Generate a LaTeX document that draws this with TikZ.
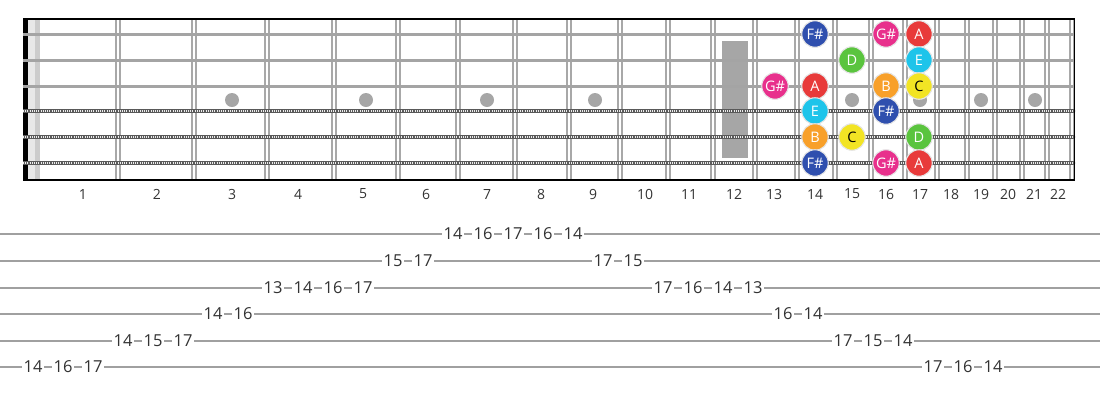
\documentclass[tikz,border=0pt]{standalone}
\usepackage{fontspec}
\setmainfont{Open Sans}
\definecolor{cFs}{HTML}{2F4FAE}
\definecolor{cGs}{HTML}{E8308C}
\definecolor{cA}{HTML}{E83A3A}
\definecolor{cE}{HTML}{1EC4EA}
\definecolor{cD}{HTML}{5AC43E}
\definecolor{cC}{HTML}{F2E424}
\definecolor{cB}{HTML}{F8A02A}
\definecolor{wire}{HTML}{A8A8A8}
\definecolor{strg}{HTML}{A4A4A4}
\definecolor{inlay}{HTML}{A6A6A6}
\definecolor{tabline}{HTML}{A0A0A0}
\definecolor{txt}{HTML}{333333}
\tikzset{
  note/.style={circle, minimum size=26.5pt, inner sep=0pt, draw=white!80!gray, line width=1.1pt,
    text=white, font=\fontsize{14.5}{15}\selectfont},
  fretlabel/.style={text=txt, font=\fontsize{14}{14}\selectfont, inner sep=0pt},
  tabnum/.style={text=txt, fill=white, inner xsep=1.5pt, inner ysep=0pt, font=\fontsize{16.5}{17}\selectfont},
  plainstring/.style={draw=strg, line width=3pt},
  woundbase/.style={draw=gray!70!black, line width=4.6pt},
  woundtex/.style={draw=white!85!gray, line width=2pt, dash pattern=on 1pt off 1.2pt},
  fretwire/.style={draw=wire, line width=1.6pt},
  dotinlay/.style={circle, fill=inlay, minimum size=14pt, inner sep=0pt},
  tabrule/.style={draw=tabline, line width=2pt}
}
\begin{document}
\begin{tikzpicture}[x=1pt,y=-1pt]
\useasboundingbox (0,0) rectangle (1100,400);
% nut area
\fill[black] (23,18) rectangle (28,181);
\fill[gray!18] (28,19) rectangle (35,180);
\fill[gray!40] (35,19) rectangle (40,180);
% fret 12 inlay
\fill[inlay] (722,41) rectangle (748,158);
% dot inlays
\foreach \x/\n in {232/3,366/5,487/7,595/9,852/15,920/17,981/19,1035/21}
  \node[dotinlay] (dot\n) at (\x,100) {};
% fret wires
\foreach \f [count=\i] in {118,194,267,334,398,458,515,569,620,668,713,755,797,835,871,905,937,967,995,1022,1047,1072} {
  \draw[fretwire] (\f-1.8,19) -- (\f-1.8,180);
  \draw[fretwire] (\f+1.8,19) -- (\f+1.8,180);
}
% strings
\foreach \y in {34,60,86}
  \draw[plainstring] (23,\y) -- (1075,\y);
\foreach \y in {111,137,163} {
  \draw[woundbase] (23,\y) -- (1075,\y);
  \draw[woundtex] (23,\y) -- (1075,\y);
}
% borders
\draw[black, line width=2.2pt] (23,19) -- (1075,19);
\draw[black, line width=2.2pt] (23,180) -- (1075,180);
\draw[black, line width=1.4pt] (1074.5,19) -- (1074.5,180);
% fret numbers
\foreach \x [count=\n] in {83,157,232,298,363,426,487,541,593,645,689,734,774,815,852,886,920,951,981,1008,1034,1058}
  \node[fretlabel] (fl\n) at (\x,194) {\n};
% notes
\node[note, fill=cFs] (s1f14) at (815,34) {F\#};
\node[note, fill=cGs] (s1f16) at (886,34) {G\#};
\node[note, fill=cA]  (s1f17) at (919,34) {A};
\node[note, fill=cD]  (s2f15) at (852,60) {D};
\node[note, fill=cE]  (s2f17) at (919,60) {E};
\node[note, fill=cGs] (s3f13) at (775,86) {G\#};
\node[note, fill=cA]  (s3f14) at (815,86) {A};
\node[note, fill=cB]  (s3f16) at (886,86) {B};
\node[note, fill=cC, text=black] (s3f17) at (919,86) {C};
\node[note, fill=cE]  (s4f14) at (815,111) {E};
\node[note, fill=cFs] (s4f16) at (886,111) {F\#};
\node[note, fill=cB]  (s5f14) at (815,137) {B};
\node[note, fill=cC, text=black] (s5f15) at (852,137) {C};
\node[note, fill=cD]  (s5f17) at (919,137) {D};
\node[note, fill=cFs] (s6f14) at (815,163) {F\#};
\node[note, fill=cGs] (s6f16) at (886,163) {G\#};
\node[note, fill=cA]  (s6f17) at (919,163) {A};
% tab lines
\foreach \y in {234,261,288,314,341,367}
  \draw[tabrule] (0,\y) -- (1100,\y);
% tab numbers
\foreach \k/\y/\v in {0/367/14,1/367/16,2/367/17,
  3/341/14,4/341/15,5/341/17,
  6/314/14,7/314/16,
  8/288/13,9/288/14,10/288/16,11/288/17,
  12/261/15,13/261/17,
  14/234/14,15/234/16,16/234/17,17/234/16,18/234/14,
  19/261/17,20/261/15,
  21/288/17,22/288/16,23/288/14,24/288/13,
  25/314/16,26/314/14,
  27/341/17,28/341/15,29/341/14,
  30/367/17,31/367/16,32/367/14}
  \node[tabnum] (t\k) at (33+30*\k,\y) {\v};
\end{tikzpicture}
\end{document}
